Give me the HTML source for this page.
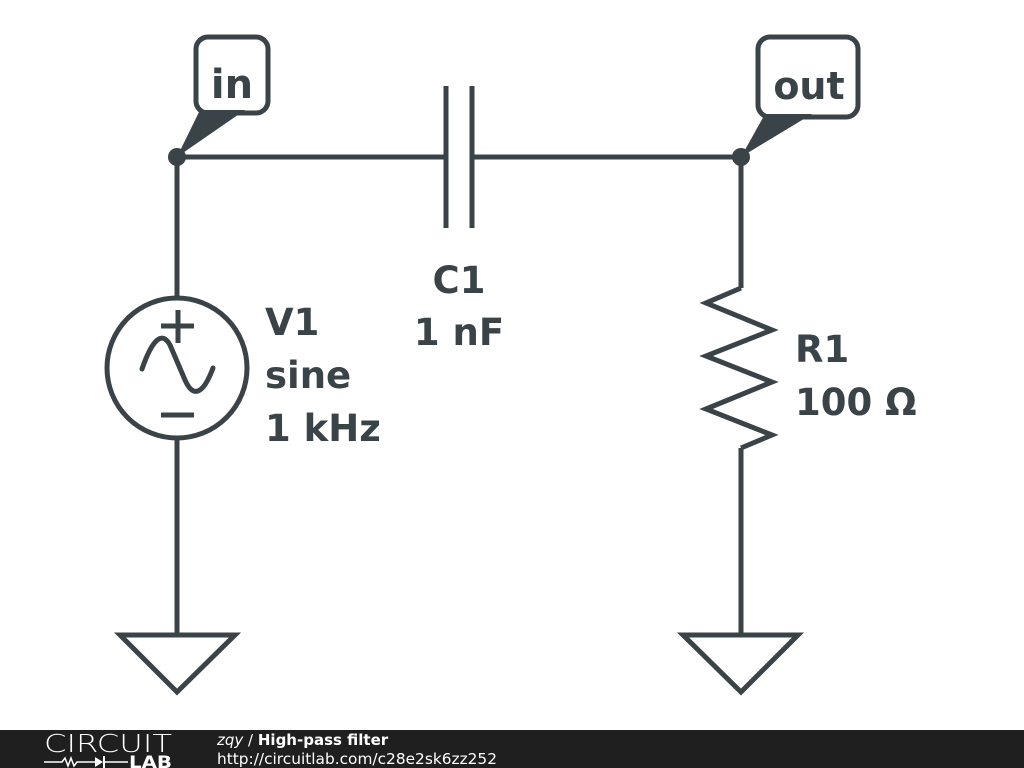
<!DOCTYPE html>
<html><head><meta charset="utf-8"><style>
html,body{margin:0;padding:0;background:#fff;}
body{width:1024px;height:768px;overflow:hidden;position:relative;font-family:"DejaVu Sans",sans-serif;}
</style></head><body>
<svg width="1024" height="768" viewBox="0 0 1024 768" style="position:absolute;left:0;top:0">
<g stroke="#3a4347" stroke-width="5" fill="none" stroke-linejoin="miter">
<line x1="177" y1="157" x2="446" y2="157"/>
<line x1="472" y1="157" x2="741" y2="157"/>
<line x1="446" y1="86" x2="446" y2="228"/>
<line x1="472" y1="86" x2="472" y2="228"/>
<line x1="177" y1="157" x2="177" y2="298"/>
<line x1="177" y1="438" x2="177" y2="635"/>
<circle cx="177" cy="368" r="70"/>
<line x1="178" y1="310" x2="178" y2="343"/>
<line x1="161" y1="326" x2="194" y2="326"/>
<line x1="161" y1="415" x2="194" y2="415"/>
<path d="M142,369 C152,340 162,330 170,345 L185,380 C193,398 203,395 213,368" stroke-linecap="round"/>
<polygon points="120,635 235,635 177,692"/>
<line x1="741" y1="157" x2="741" y2="288"/>
<polyline points="741,288 706,303 772,330 706,356 772,382 706,409 772,435 741,448"/>
<line x1="741" y1="448" x2="741" y2="635"/>
<polygon points="683,635 798,635 741,692"/>
<rect x="196" y="37" width="72" height="76" rx="12"/>
<rect x="758" y="37" width="100" height="80" rx="12"/>
</g>
<g fill="#3a4347">
<circle cx="177" cy="157" r="9"/>
<circle cx="741" cy="157" r="9"/>
<polygon points="177,157 200,110 245,110"/>
<polygon points="741,157 765,114 812,114"/>
</g>
<g fill="#3a4347" font-family="DejaVu Sans, sans-serif" font-weight="bold" font-size="37">
<text x="232" y="98" text-anchor="middle" font-size="40">in</text>
<text x="809" y="99" text-anchor="middle" font-size="38">out</text>
<text x="459" y="293" text-anchor="middle">C1</text>
<text x="459" y="345" text-anchor="middle">1 nF</text>
<text x="265" y="335">V1</text>
<text x="265" y="388">sine</text>
<text x="265" y="441">1 kHz</text>
<text x="795" y="362">R1</text>
<text x="795" y="415">100 Ω</text>
</g>
<rect x="0" y="730" width="1024" height="38" fill="#1f1f1f"/>
<text x="44" y="752" fill="#fff" font-size="25" font-family="DejaVu Sans, sans-serif" font-weight="200" textLength="128" lengthAdjust="spacingAndGlyphs">CIRCUIT</text>
<path d="M44,762 L62,762 l3,-4 l3,8 l3,-8 l3,8 l3,-4 L95,762" stroke="#fff" stroke-width="1.5" fill="none"/>
<polygon points="95,757 103,762 95,767" fill="#fff"/>
<line x1="104" y1="756" x2="104" y2="768" stroke="#fff" stroke-width="2"/>
<line x1="104" y1="762" x2="128" y2="762" stroke="#fff" stroke-width="1.5"/>
<text x="129" y="768" fill="#fff" font-size="17" font-weight="bold" font-family="DejaVu Sans, sans-serif" textLength="43" lengthAdjust="spacingAndGlyphs">LAB</text>
<text x="217" y="745" fill="#fff" font-size="15" font-family="DejaVu Sans, sans-serif"><tspan font-style="italic">zqy</tspan> / <tspan font-weight="bold">High-pass filter</tspan></text>
<text x="217" y="764" fill="#fff" font-size="15" font-family="DejaVu Sans, sans-serif" textLength="280" lengthAdjust="spacingAndGlyphs">http://circuitlab.com/c28e2sk6zz252</text>
</svg>
</body></html>
